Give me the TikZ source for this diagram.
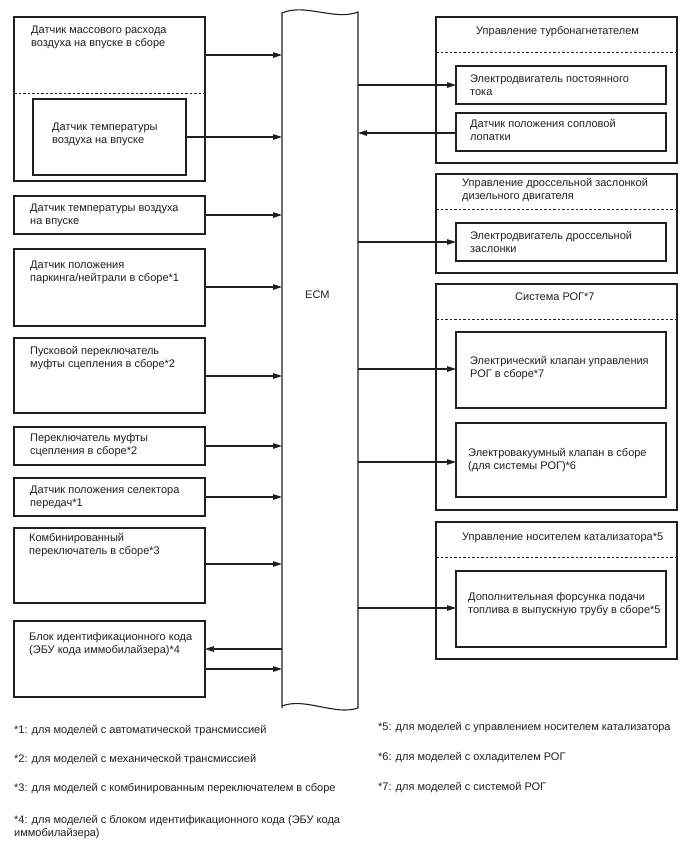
\documentclass[tikz,border=0pt]{standalone}
\usepackage{fontspec}
\setmainfont{Liberation Sans}
\usetikzlibrary{arrows.meta}
\definecolor{lc}{RGB}{35,31,32}
\newcommand\fsz{\fontsize{11}{13}\selectfont}
\newcommand\bx[5]{\node[box, minimum width={(#4)-(#2)}, minimum height={(#5)-(#3)}] (#1) at ({((#2)+(#4))/2},{((#3)+(#5))/2}) {};}
\tikzset{
  box/.style={draw=lc, line width=1.1pt, inner sep=0pt, outer sep=0pt, rectangle},
  txt/.style={anchor=west, align=left, inner sep=0pt, font=\fsz, text=lc},
  dsh/.style={draw=lc, line width=1pt, dash pattern=on 2.5pt off 2pt},
  arr/.style={draw=lc, line width=1.1pt, -{Triangle[length=9pt,width=5.5pt]}},
}
\begin{document}
\begin{tikzpicture}[x=1pt,y=-1pt]
\useasboundingbox (0,0) rectangle (688,852);
% ECM
\node[inner sep=0pt, outer sep=0pt, minimum width=76pt, minimum height=696pt] (ecm) at (320,360) {};
\draw[lc, line width=1.1pt] (282,708) -- (282,13) .. controls (305,3) and (335,21) .. (358,12) -- (358,708)
  (282,706) .. controls (305,697) and (335,716) .. (358,708);
\node[txt] (ecml) at (305,295) {ECM};
% left boxes
\bx{b1}{14}{17}{205}{181}
\draw[dsh] (b1.west |- 0,93) -- (b1.east |- 0,93);
\bx{b2}{33}{99}{186}{175}
\node[txt] (t1) at (31,37.5) {Датчик массового расхода\\воздуха на впуске в сборе};
\node[txt] (t2) at (52,134) {Датчик температуры\\воздуха на впуске};
\bx{b3}{14}{196}{205}{234}
\node[txt] (t3) at (30,215) {Датчик температуры воздуха\\на впуске};
\bx{b4}{14}{249}{205}{326}
\node[txt] (t4) at (30,272) {Датчик положения\\паркинга/нейтрали в сборе*1};
\bx{b5}{14}{338}{205}{413}
\node[txt] (t5) at (30,358) {Пусковой переключатель\\муфты сцепления в сборе*2};
\bx{b6}{14}{427}{205}{465}
\node[txt] (t6) at (30,445) {Переключатель муфты\\сцепления в сборе*2};
\bx{b7}{14}{478}{205}{516}
\node[txt] (t7) at (30,497) {Датчик положения селектора\\передач*1};
\bx{b8}{14}{528}{205}{603}
\node[txt] (t8) at (29,545.5) {Комбинированный\\переключатель в сборе*3};
\bx{b9}{14}{621}{205}{697}
\node[txt] (t9) at (29,644.5) {Блок идентификационного кода\\(ЭБУ кода иммобилайзера)*4};
% left arrows
\draw[arr] (b1.east |- 0,55) -- (ecm.west |- 0,55);
\draw[arr] (b2.east |- 0,137) -- (ecm.west |- 0,137);
\draw[arr] (b3.east |- 0,215) -- (ecm.west |- 0,215);
\draw[arr] (b4.east |- 0,287) -- (ecm.west |- 0,287);
\draw[arr] (b5.east |- 0,376) -- (ecm.west |- 0,376);
\draw[arr] (b6.east |- 0,446) -- (ecm.west |- 0,446);
\draw[arr] (b7.east |- 0,497) -- (ecm.west |- 0,497);
\draw[arr] (b8.east |- 0,564) -- (ecm.west |- 0,564);
\draw[arr] (ecm.west |- 0,649) -- (b9.east |- 0,649);
\draw[arr] (b9.east |- 0,669) -- (ecm.west |- 0,669);
% right: turbo
\bx{rt}{436}{17}{677}{163}
\draw[dsh] (rt.west |- 0,52) -- (rt.east |- 0,52);
\node[txt] (tt) at (476,32) {Управление турбонагнетателем};
\bx{r1}{456}{66}{666}{104}
\node[txt] (tr1) at (470,85) {Электродвигатель постоянного\\тока};
\bx{r2}{456}{113}{666}{151}
\node[txt] (tr2) at (470,130) {Датчик положения сопловой\\лопатки};
\draw[arr] (ecm.east |- 0,85) -- (r1.west |- 0,85);
\draw[arr] (r2.west |- 0,133) -- (ecm.east |- 0,133);
% throttle
\bx{rd}{436}{174}{677}{273}
\draw[dsh] (rd.west |- 0,209) -- (rd.east |- 0,209);
\node[txt] (td) at (462,190) {Управление дроссельной заслонкой\\дизельного двигателя};
\bx{r3}{456}{223}{666}{261}
\node[txt] (tr3) at (470,241.5) {Электродвигатель дроссельной\\заслонки};
\draw[arr] (ecm.east |- 0,242) -- (r3.west |- 0,242);
% EGR
\bx{re}{436}{284}{677}{510}
\draw[dsh] (re.west |- 0,319) -- (re.east |- 0,319);
\node[txt] (te) at (515,297) {Система РОГ*7};
\bx{r4}{456}{332}{666}{408}
\node[txt] (tr4) at (470,368) {Электрический клапан управления\\РОГ в сборе*7};
\bx{r5}{456}{423}{666}{497}
\node[txt] (tr5) at (468,460.5) {Электровакуумный клапан в сборе\\(для системы РОГ)*6};
\draw[arr] (ecm.east |- 0,369) -- (r4.west |- 0,369);
\draw[arr] (ecm.east |- 0,462) -- (r5.west |- 0,462);
% catalyst
\bx{rc}{436}{522}{677}{659}
\draw[dsh] (rc.west |- 0,557) -- (rc.east |- 0,557);
\node[txt] (tc) at (462,538) {Управление носителем катализатора*5};
\bx{r6}{456}{571}{666}{647}
\node[txt] (tr6) at (468,604.5) {Дополнительная форсунка подачи\\топлива в выпускную трубу в сборе*5};
\draw[arr] (ecm.east |- 0,608) -- (r6.west |- 0,608);
% footnotes
\node[txt] (f1) at (14,731) {*1: для моделей с автоматической трансмиссией};
\node[txt] (f2) at (14,760) {*2: для моделей с механической трансмиссией};
\node[txt] (f3) at (14,789) {*3: для моделей с комбинированным переключателем в сборе};
\node[txt] (f4) at (14,827) {*4: для моделей с блоком идентификационного кода (ЭБУ кода\\иммобилайзера)};
\node[txt] (f5) at (378,728) {*5: для моделей с управлением носителем катализатора};
\node[txt] (f6) at (378,758) {*6: для моделей с охладителем РОГ};
\node[txt] (f7) at (378,788) {*7: для моделей с системой РОГ};
\end{tikzpicture}
\end{document}
